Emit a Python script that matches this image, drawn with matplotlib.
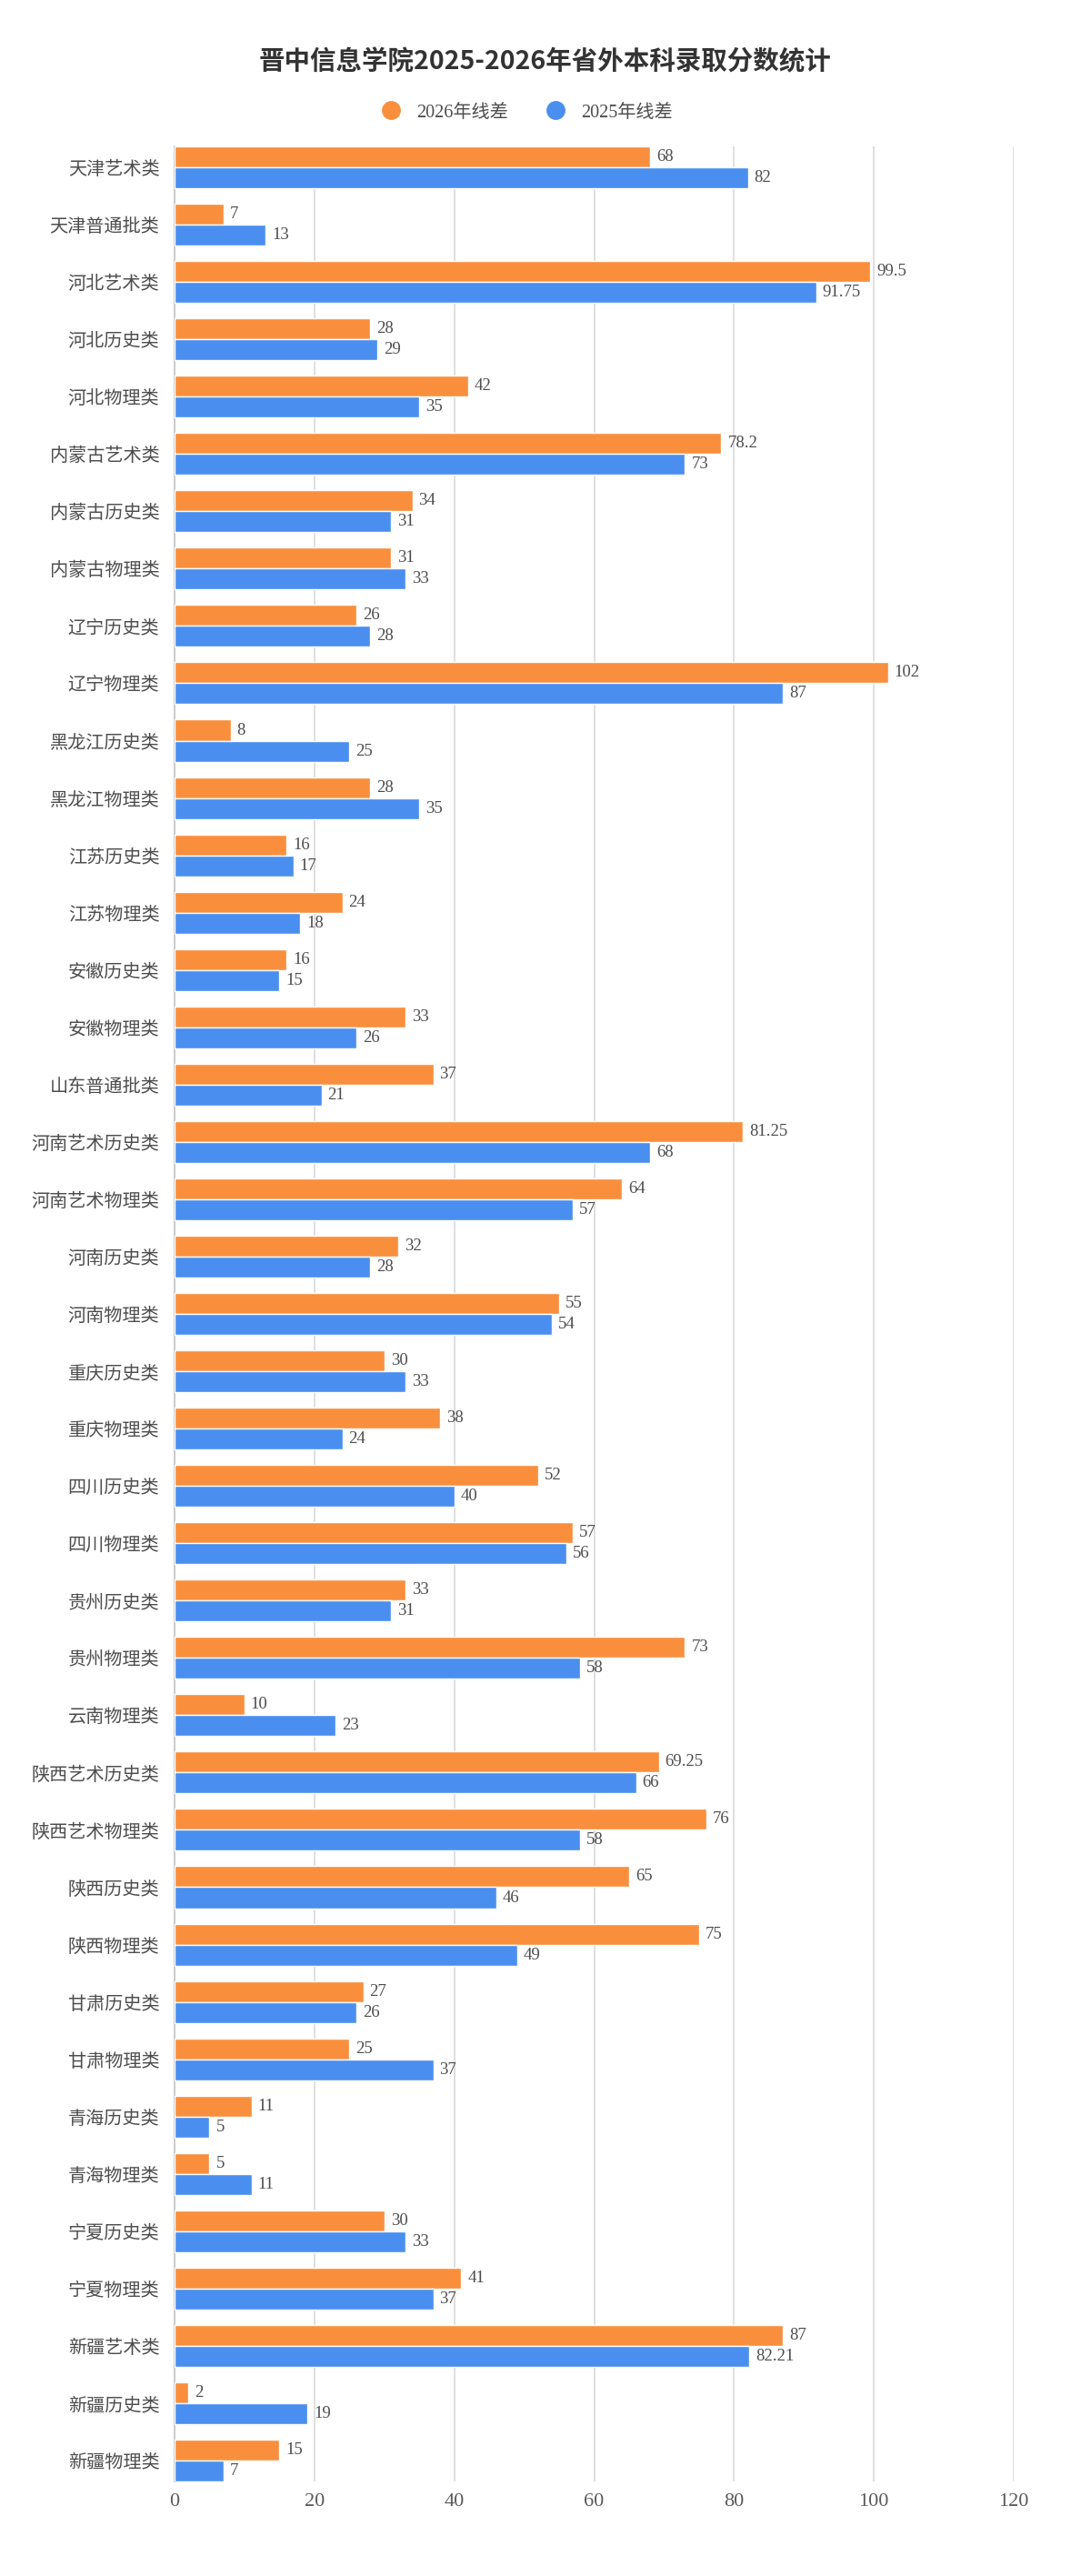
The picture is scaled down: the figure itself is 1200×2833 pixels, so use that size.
import numpy as np
import matplotlib
matplotlib.use('Agg')
import matplotlib.pyplot as plt
from matplotlib.lines import Line2D

categories = ['天津艺术类', '天津普通批类', '河北艺术类', '河北历史类', '河北物理类',
              '内蒙古艺术类', '内蒙古历史类', '内蒙古物理类', '辽宁历史类', '辽宁物理类',
              '黑龙江历史类', '黑龙江物理类', '江苏历史类', '江苏物理类', '安徽历史类',
              '安徽物理类', '山东普通批类', '河南艺术历史类', '河南艺术物理类', '河南历史类',
              '河南物理类', '重庆历史类', '重庆物理类', '四川历史类', '四川物理类',
              '贵州历史类', '贵州物理类', '云南物理类', '陕西艺术历史类', '陕西艺术物理类',
              '陕西历史类', '陕西物理类', '甘肃历史类', '甘肃物理类', '青海历史类',
              '青海物理类', '宁夏历史类', '宁夏物理类', '新疆艺术类', '新疆历史类',
              '新疆物理类']
diff_2026 = [68, 7, 99.5, 28, 42, 78.2, 34, 31, 26, 102,
             8, 28, 16, 24, 16, 33, 37, 81.25, 64, 32,
             55, 30, 38, 52, 57, 33, 73, 10, 69.25, 76,
             65, 75, 27, 25, 11, 5, 30, 41, 87, 2, 15]
diff_2025 = [82, 13, 91.75, 29, 35, 73, 31, 33, 28, 87,
             25, 35, 17, 18, 15, 26, 21, 68, 57, 28,
             54, 33, 24, 40, 56, 31, 58, 23, 66, 58,
             46, 49, 26, 37, 5, 11, 33, 37, 82.21, 19, 7]
series_names = ['2026年线差', '2025年线差']
x_ticks = [0, 20, 40, 60, 80, 100, 120]

c26 = '#F98F3D'
c25 = '#4A8FEF'
mixed = ['Liberation Serif', 'Noto Sans CJK SC', 'DejaVu Sans']
plt.rcParams['font.family'] = mixed

W, H = 1200, 2833
fig = plt.figure(figsize=(W / 100, H / 100), dpi=100)
ax = fig.add_axes([192 / W, 1 - 2729 / H, (1115 - 192) / W, (2729 - 161) / H])

n = len(categories)
y = np.arange(n)
h = 0.365
ax.barh(y - h / 2, diff_2026, height=h, color=c26, edgecolor='white', linewidth=1, zorder=3)
ax.barh(y + h / 2, diff_2025, height=h, color=c25, edgecolor='white', linewidth=1, zorder=3)

# value labels next to each bar
for yi, v in zip(y - h / 2, diff_2026):
    ax.text(v + 0.9, yi, '{:g}'.format(v), va='center', ha='left', fontsize=13.5, color='#4d4d4d')
for yi, v in zip(y + h / 2, diff_2025):
    ax.text(v + 0.9, yi, '{:g}'.format(v), va='center', ha='left', fontsize=13.5, color='#4d4d4d')

ax.set_xlim(0, 120)
ax.set_ylim(n - 1 + h, -h)
ax.set_xticks(x_ticks)
ax.set_xticklabels([str(t) for t in x_ticks], fontsize=16, color='#5a5a5a')
ax.set_yticks(y)
ax.set_yticklabels(categories, fontsize=14.5, color='#4d4d4d', family=['Noto Sans CJK SC'])
ax.tick_params(axis='both', length=0)
ax.tick_params(axis='x', pad=9)
ax.tick_params(axis='y', pad=12)

ax.grid(axis='x', color='#dcdcdc', linewidth=1.3, zorder=0)
for s in ['top', 'right', 'bottom']:
    ax.spines[s].set_visible(False)
ax.spines['left'].set_color('#c8c8c8')
ax.spines['left'].set_linewidth(1.3)

fig.text(0.5, 1 - 68 / H, '晋中信息学院2025-2026年省外本科录取分数统计', ha='center', va='center',
         fontsize=20.5, fontweight='bold', color='#333333', family=['Noto Sans CJK SC'])

handles = [Line2D([], [], marker='o', ls='', markersize=14, color=c26),
           Line2D([], [], marker='o', ls='', markersize=14, color=c25)]
fig.legend(handles, series_names, loc='center', bbox_to_anchor=(575 / W, 1 - 124 / H),
           ncol=2, frameon=False, fontsize=14.5, handletextpad=0.4, columnspacing=1.6,
           labelcolor='#4d4d4d')

fig.savefig('out.png', dpi=100, facecolor='white')
